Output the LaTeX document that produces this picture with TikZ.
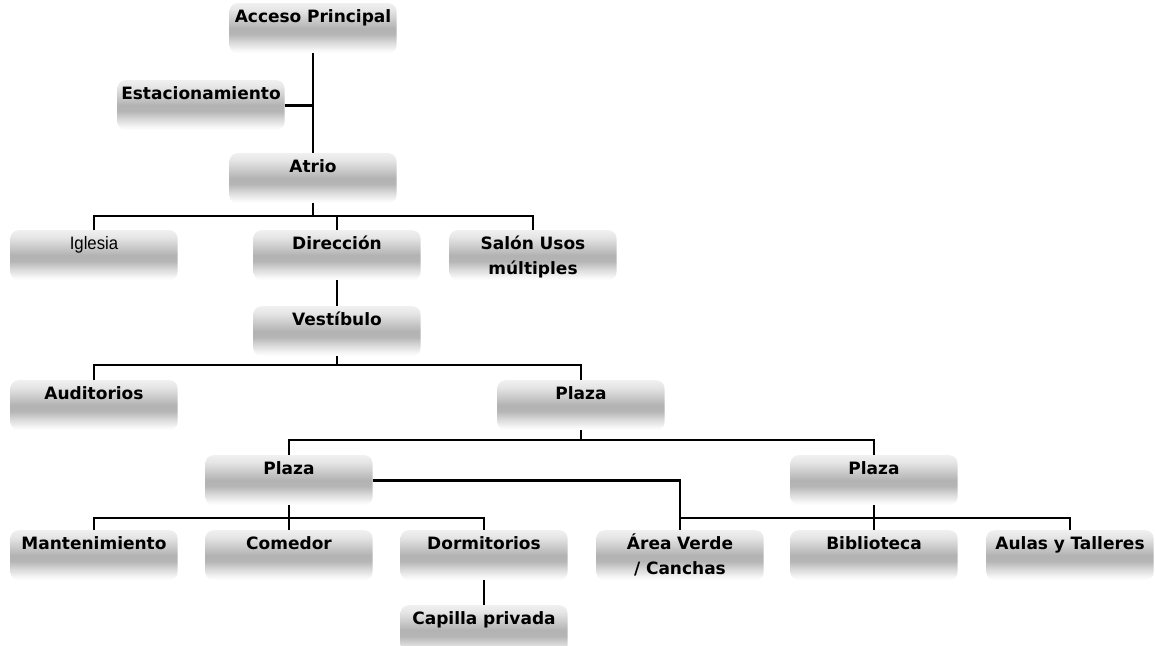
\documentclass[tikz,border=0pt]{standalone}
\usepackage{fontspec}
\newfontfamily\cajafont{DejaVu Sans}
\newfontfamily\narrowfont[FakeStretch=0.93]{Liberation Sans}
\usetikzlibrary{positioning,calc}

\pgfdeclareverticalshading{cajashade}{100bp}{color(0bp)=(white); color(25bp)=(white); color(28bp)=(black!3); color(36bp)=(black!15); color(44bp)=(black!29); color(50bp)=(black!30); color(58bp)=(black!21); color(68bp)=(black!10); color(75bp)=(black!6); color(100bp)=(black!6)}

\tikzset{
	caja/.style={anchor=north, shading=cajashade, rounded corners=8pt, text width=160pt, align=center, inner xsep=3.5pt, inner ysep=7.5pt, text height=12pt, text depth=23pt, font=\cajafont\bfseries\fontsize{17}{25}\selectfont},
	linea/.style={line width=2.9pt},
}

\begin{document}
\begin{tikzpicture}[x=1pt,y=-1pt]
				\useasboundingbox (0,0) rectangle (1155,645);
				\clip (0,0) rectangle (1155,645);
				% cajas
				\node[caja] (acceso) at (313,3) {Acceso Principal};
				\node[caja] (estac) at (201,80) {Estacionamiento};
				\node[caja] (atrio) at (313,153) {Atrio};
				\node[caja, font=\narrowfont\fontsize{18}{25}\selectfont] (iglesia) at (94,230) {Iglesia};
				\node[caja] (direccion) at (337,230) {Dirección};
				\node[caja] (salon) at (533,230) {Salón Usos\\múltiples};
				\node[caja] (vestibulo) at (337,306) {Vestíbulo};
				\node[caja] (auditorios) at (94,380) {Auditorios};
				\node[caja] (plaza) at (581,380) {Plaza};
				\node[caja] (plazaL) at (289,455) {Plaza};
				\node[caja] (plazaR) at (874,455) {Plaza};
				\node[caja] (mant) at (94,530) {Mantenimiento};
				\node[caja] (comedor) at (289,530) {Comedor};
				\node[caja] (dorm) at (484,530) {Dormitorios};
				\node[caja] (area) at (680,530) {Área Verde\\/ Canchas};
				\node[caja] (biblio) at (874,530) {Biblioteca};
				\node[caja] (aulas) at (1070,530) {Aulas y Talleres};
				\node[caja] (capilla) at (484,605) {Capilla privada};
				% ramas
				\coordinate (busAtrio) at (313,216);
				\coordinate (busVest) at (337,365);
				\coordinate (busPlaza) at (581,440);
				\coordinate (busPlazaL) at (289,518);
				\coordinate (busPlazaR) at (874,518);
				\draw[linea] (acceso.south) -- (atrio.north);
				\draw[linea] (estac.east) -- (estac.east -| acceso.south);
				\draw[linea] (atrio.south) -- (busAtrio);
				\draw[linea] (iglesia.north) |- (salon.north |- busAtrio) -- (salon.north);
				\draw[linea] (direccion.north) -- (direccion.north |- busAtrio);
				\draw[linea] (direccion.south) -- (vestibulo.north);
				\draw[linea] (vestibulo.south) -- (busVest);
				\draw[linea] (auditorios.north) |- (plaza.north |- busVest) -- (plaza.north);
				\draw[linea] (plaza.south) -- (busPlaza);
				\draw[linea] (plazaL.north) |- (plazaR.north |- busPlaza) -- (plazaR.north);
				\draw[linea] (plazaL.east) -| (area.north);
				\draw[linea] (plazaL.south) -- (busPlazaL);
				\draw[linea] (mant.north) |- (dorm.north |- busPlazaL) -- (dorm.north);
				\draw[linea] (comedor.north) -- (busPlazaL);
				\draw[linea] (plazaR.south) -- (biblio.north);
				\draw[linea] (area.north |- busPlazaR) -| (aulas.north);
				\draw[linea] (dorm.south) -- (capilla.north);
			\end{tikzpicture}
\end{document}
